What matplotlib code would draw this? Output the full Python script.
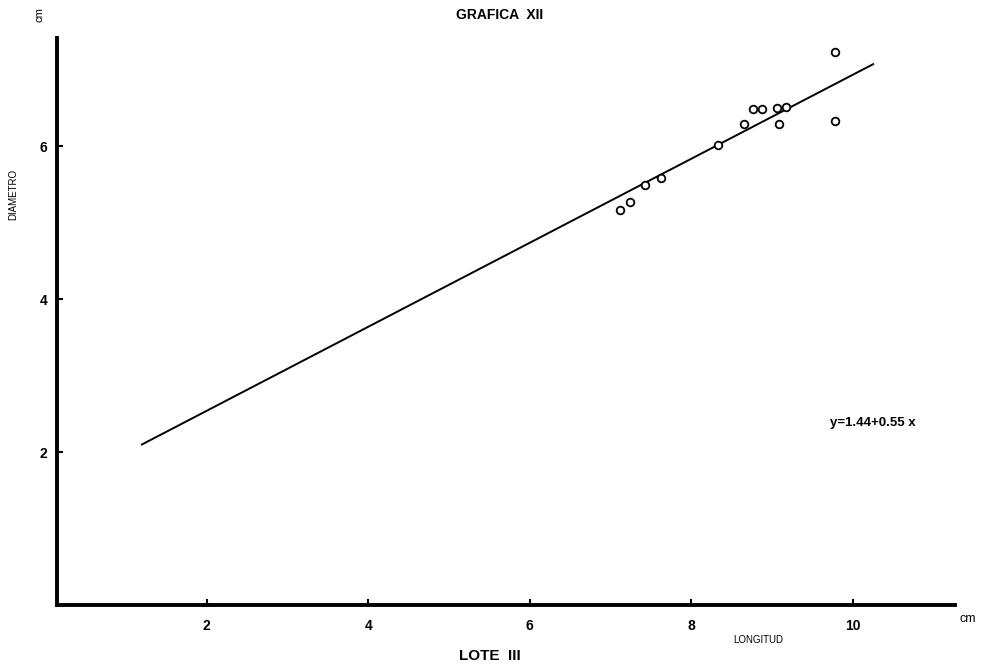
import numpy as np
import matplotlib
matplotlib.use('Agg')
import matplotlib.pyplot as plt

plt.rcParams['font.family'] = ['Liberation Sans', 'DejaVu Sans']

# data (cm)
longitud = [9.78, 9.78, 8.76, 8.87, 9.06, 9.17, 8.65, 9.09, 8.33, 7.62, 7.42, 7.24, 7.12]
diametro = [7.23, 6.33, 6.49, 6.49, 6.51, 6.52, 6.30, 6.29, 6.02, 5.59, 5.50, 5.28, 5.17]

# regression y = a + b x
a, b = 1.44, 0.55
line_x = np.array([1.2, 10.25])
line_y = a + b * line_x

xticks = [2, 4, 6, 8, 10]
yticks = [2, 4, 6]

fig = plt.figure(figsize=(9.92, 6.71), dpi=100)
ax = fig.add_axes([0.0575, 0.0984, 0.905, 0.845])

ax.plot(line_x, line_y, color='black', lw=1.4)
ax.plot(longitud, diametro, 'o', mfc='white', mec='black', mew=1.3, ms=5.5)

ax.set_xlim(0.15, 11.26)
ax.set_ylim(0, 7.42)
ax.set_xticks(xticks)
ax.set_yticks(yticks)
ax.set_xticklabels([str(t) for t in xticks], fontweight='bold', fontsize=10)
ax.set_yticklabels([str(t) for t in yticks], fontweight='bold', fontsize=10)
ax.tick_params(direction='in', length=4, width=1.5)
ax.tick_params(axis='x', pad=10)
ax.tick_params(axis='y', pad=7)

for s in ['top', 'right']:
    ax.spines[s].set_visible(False)
for s in ['left', 'bottom']:
    ax.spines[s].set_linewidth(2.8)

fig.text(0.504, 0.988, 'GRAFICA  XII', ha='center', va='top', fontsize=10, fontweight='bold')
fig.text(0.013, 0.71, 'DIAMETRO', rotation=90, ha='center', va='center', fontsize=7)
fig.text(0.040, 0.978, 'cm', rotation=90, ha='center', va='center', fontsize=8)
fig.text(0.976, 0.078, 'cm', ha='center', va='center', fontsize=9)
fig.text(0.764, 0.046, 'LONGITUD', ha='center', va='center', fontsize=7)
fig.text(0.494, 0.022, 'LOTE  III', ha='center', va='center', fontsize=11, fontweight='bold')
fig.text(0.880, 0.369, 'y=1.44+0.55 x', ha='center', va='center', fontsize=9.5, fontweight='bold')

fig.savefig('out.png', dpi=100)
